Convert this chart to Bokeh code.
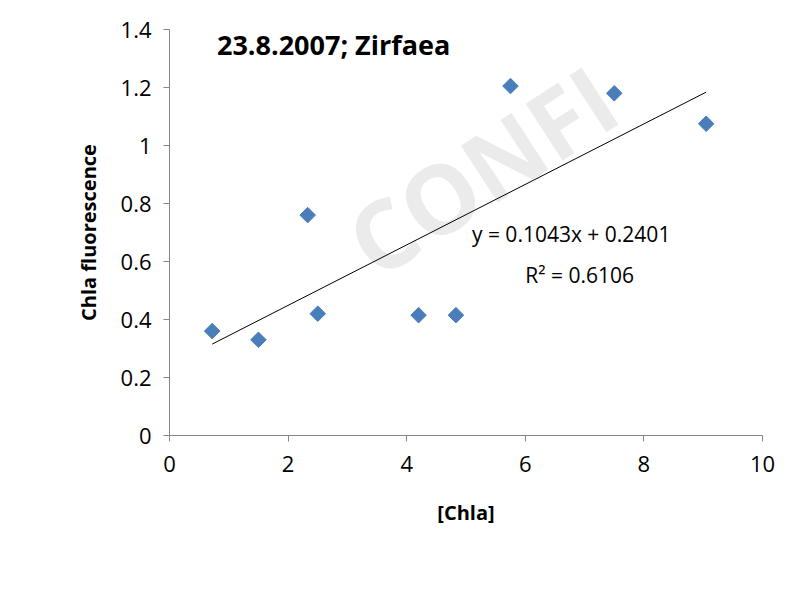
from bokeh.plotting import figure
from bokeh.models import Range1d, Label, FixedTicker
from bokeh.embed import file_html
from bokeh.resources import INLINE
import math

chla = [0.72, 1.5, 2.33, 2.5, 4.2, 4.83, 5.75, 7.5, 9.05]
fluor = [0.36, 0.33, 0.76, 0.42, 0.415, 0.415, 1.205, 1.18, 1.075]
slope = 0.1043
intercept = 0.2401
x_ticks = [0, 2, 4, 6, 8, 10]
y_ticks = [0, 0.2, 0.4, 0.6, 0.8, 1, 1.2, 1.4]
y_tick_labels = {0: "0", 0.2: "0.2", 0.4: "0.4", 0.6: "0.6", 0.8: "0.8", 1: "1", 1.2: "1.2", 1.4: "1.4"}

F = "Open Sans"
p = figure(width=791, height=589, output_backend="svg", toolbar_location=None,
           x_range=Range1d(0, 10), y_range=Range1d(0, 1.4),
           min_border_left=169, min_border_right=29, min_border_top=29, min_border_bottom=154)
p.outline_line_color = None
p.grid.visible = False
p.xaxis.ticker = FixedTicker(ticks=x_ticks)
p.yaxis.ticker = FixedTicker(ticks=y_ticks)
p.yaxis.major_label_overrides = {k: v for k, v in y_tick_labels.items()}
for ax in (p.xaxis, p.yaxis):
    ax.axis_line_color = "#868686"
    ax.major_tick_line_color = "#868686"
    ax.minor_tick_line_color = None
    ax.major_tick_out = 6
    ax.major_tick_in = 0
    ax.major_label_text_font = F
    ax.major_label_text_font_size = "22px"
    ax.major_label_text_color = "black"
    ax.axis_label_text_font = F
    ax.axis_label_text_font_style = "bold"
    ax.axis_label_text_font_size = "20px"
    ax.axis_label_text_color = "black"
p.xaxis.axis_label = "[Chla]"
p.yaxis.axis_label = "Chla fluorescence"
p.xaxis.major_label_standoff = 14
p.xaxis.axis_label_standoff = 24
p.yaxis.major_label_standoff = 12
p.yaxis.axis_label_standoff = 16

wm = Label(x=3.75, y=0.45, text="CONFI", angle=math.radians(33),
           text_font=F, text_font_style="bold", text_font_size="95px",
           text_color="#ebebeb", text_baseline="bottom", level="underlay")
p.add_layout(wm)

x0, x1 = min(chla), max(chla)
p.line([x0, x1], [slope * x0 + intercept, slope * x1 + intercept], line_color="black", line_width=1)
p.scatter(chla, fluor, marker="square", angle=math.radians(45), size=11,
          fill_color="#4a7ebb", line_color="#4a7ebb")

p.add_layout(Label(x=0.8, y=1.35, text="23.8.2007; Zirfaea", text_font=F, text_font_style="bold",
                   text_font_size="27px", text_baseline="middle", text_color="black"))
p.add_layout(Label(x=5.1, y=0.695, text="y = 0.1043x + 0.2401", text_font=F,
                   text_font_size="21px", text_baseline="middle", text_color="black"))
p.add_layout(Label(x=6.0, y=0.555, text="R² = 0.6106", text_font=F,
                   text_font_size="21px", text_baseline="middle", text_color="black"))

open("out.html", "w").write(file_html(p, INLINE))
